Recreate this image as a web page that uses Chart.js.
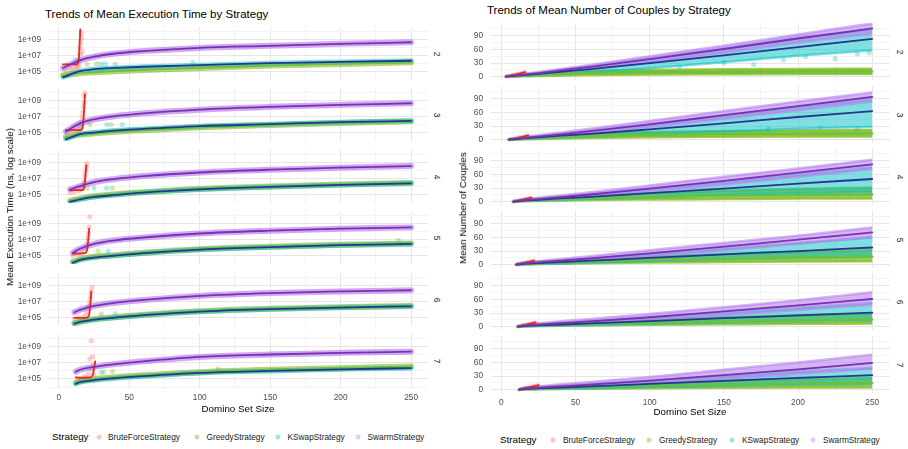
<!DOCTYPE html>
<html>
<head>
<meta charset="utf-8">
<script src="https://cdn.jsdelivr.net/npm/chart.js@4.4.1/dist/chart.umd.min.js"></script>
<style>
  body { margin: 0; background: #fff; font-family: "Liberation Sans", Arial, Helvetica, sans-serif; }
  #wrap { position: relative; width: 908px; height: 449px; overflow: hidden; background: #fff; }
  .txt { position: absolute; white-space: nowrap; color: #000; line-height: 1; }
  .key { position: absolute; width: 5px; height: 5px; border-radius: 50%; transform: translate(-50%, -50%); }
</style>
</head>
<body>
<div id="wrap"></div>
<script>
// ---- data ----
const facetLabels = ['2', '3', '4', '5', '6', '7'];
const strategies = ['BruteForceStrategy', 'GreedyStrategy', 'KSwapStrategy', 'SwarmStrategy'];
const xTicks = [0, 50, 100, 150, 200, 250];
const xGrid = [0, 25, 50, 75, 100, 125, 150, 175, 200, 225, 250];
const timeTicks = ['1e+05', '1e+07', '1e+09'];
const timeGrid = [1e4, 1e5, 1e6, 1e7, 1e8, 1e9, 1e10];
const coupleTicks = [0, 30, 60, 90];
const coupleGrid = [0, 15, 30, 45, 60, 75, 90, 105];

// smooth fits are read at [first size of the facet, ...fitX]
const facetStartX = [3, 5, 8, 10, 11, 12];
const fitX = [15, 25, 40, 60, 100, 150, 200, 250];

// mean execution time, log10(ns)
const timeSwarm = [
  [5.5, 6.45, 6.9, 7.3, 7.6, 8.0, 8.25, 8.5, 8.7],
  [5.2, 6.2, 6.7, 7.1, 7.45, 7.9, 8.25, 8.5, 8.7],
  [5.7, 6.1, 6.6, 7.0, 7.35, 7.8, 8.15, 8.4, 8.6],
  [5.4, 5.9, 6.5, 6.95, 7.3, 7.8, 8.15, 8.4, 8.55],
  [5.7, 6.0, 6.5, 6.9, 7.25, 7.75, 8.1, 8.3, 8.45],
  [5.9, 6.15, 6.5, 6.85, 7.2, 7.75, 8.05, 8.25, 8.4]
];
const timeKSwap = [
  [4.35, 5.1, 5.35, 5.5, 5.65, 5.85, 6.1, 6.25, 6.4],
  [4.2, 4.85, 5.05, 5.3, 5.5, 5.85, 6.1, 6.35, 6.5],
  [4.15, 4.45, 4.75, 5.0, 5.3, 5.7, 6.0, 6.25, 6.45],
  [4.15, 4.5, 4.8, 5.05, 5.35, 5.8, 6.1, 6.35, 6.5],
  [4.3, 4.5, 4.8, 5.05, 5.35, 5.8, 6.1, 6.3, 6.45],
  [4.4, 4.6, 4.85, 5.1, 5.35, 5.75, 6.0, 6.2, 6.35]
];
const timeGreedy = [
  [4.6, 4.85, 4.95, 5.1, 5.25, 5.5, 5.8, 6.0, 6.2],
  [4.5, 4.8, 4.95, 5.15, 5.35, 5.7, 6.0, 6.25, 6.45],
  [4.3, 4.55, 4.85, 5.1, 5.35, 5.75, 6.05, 6.3, 6.5],
  [4.3, 4.6, 4.9, 5.1, 5.4, 5.85, 6.15, 6.4, 6.55],
  [4.35, 4.55, 4.85, 5.1, 5.4, 5.85, 6.15, 6.35, 6.5],
  [4.5, 4.7, 4.95, 5.2, 5.45, 5.85, 6.15, 6.35, 6.55]
];
const timeBruteX = [
  [3, 8, 12.5, 14, 14.6, 15.2],
  [5, 10, 15.5, 17, 17.8, 18.5],
  [8, 12, 16.5, 18, 18.8, 19.5],
  [10, 14, 18.5, 20, 20.8, 21.5],
  [11, 15, 20, 21.5, 22.3, 23],
  [12, 17, 22.5, 24, 25, 25.8]
];
const timeBruteY = [
  [5.95, 5.95, 5.95, 6.4, 8.0, 10.3],
  [5.35, 5.35, 5.35, 5.8, 7.5, 9.8],
  [5.6, 5.6, 5.6, 6.0, 7.3, 8.7],
  [5.3, 5.3, 5.35, 5.7, 6.9, 8.4],
  [5.0, 5.0, 5.05, 5.4, 6.6, 8.3],
  [5.2, 5.15, 5.2, 5.5, 6.3, 7.2]
];
const timeBrutePtsX = [
  [5, 8, 10, 12, 13, 14, 14.5, 15, 15, 15.5, 16, 16, 16.5, 14],
  [6, 9, 12, 14, 15, 16, 16.5, 17, 17.5, 18, 18, 18.5],
  [8, 11, 14, 16, 17, 18, 18.5, 19, 19.5, 20],
  [10, 13, 16, 18, 19, 20, 20.5, 21, 21.5, 22],
  [11, 14, 17, 19, 20, 21, 22, 22.5, 23, 23.5],
  [13, 15, 18, 20, 21, 22, 23, 23, 24, 24.5, 25]
];
const timeBrutePtsY = [
  [5.2, 5.4, 5.3, 5.5, 5.8, 5.6, 6.5, 7.2, 8.0, 8.6, 9.2, 9.8, 7.5, 6.0],
  [5.1, 5.2, 5.3, 5.4, 5.8, 6.4, 7.0, 7.6, 8.3, 8.8, 9.6, 10.0],
  [5.3, 5.4, 5.5, 5.7, 6.2, 6.7, 7.4, 7.9, 8.4, 8.9],
  [5.1, 5.2, 5.3, 5.6, 6.0, 6.6, 7.2, 7.8, 8.6, 9.9],
  [4.9, 5.0, 5.1, 5.3, 5.8, 6.4, 7.0, 7.6, 8.2, 8.8],
  [5.0, 5.0, 5.3, 5.1, 5.6, 7.5, 6.3, 9.75, 7.8, 6.8, 5.5]
];
// stray points: [strategy (g = Greedy, k = KSwap), size, log10(ns)]
const timeStray = [
  [['k', 12, 6.5], ['g', 20, 5.95], ['g', 27, 6.0], ['k', 30, 6.0], ['k', 33, 6.0], ['g', 40, 5.95], ['k', 95, 6.15]],
  [['k', 15, 5.8], ['g', 22, 6.05], ['k', 34, 6.05], ['g', 37, 6.05], ['k', 45, 6.05]],
  [['g', 20, 5.85], ['k', 25, 5.9], ['k', 34, 5.85], ['g', 38, 5.85]],
  [['g', 28, 5.6], ['k', 35, 5.6], ['g', 241, 6.95]],
  [['g', 30, 5.5], ['k', 40, 5.5]],
  [['g', 32, 5.9], ['g', 38, 5.95], ['k', 30, 5.8], ['g', 113, 6.25]]
];

// mean number of couples
const cplSwarm = [
  [0.5, 4.5, 8, 14, 22, 39, 61, 84, 106],
  [0.5, 4, 7, 12, 19, 34, 54, 74, 94],
  [0.5, 3.5, 6, 10, 16, 29, 46, 64, 82],
  [0.5, 3, 5.5, 9, 14, 25, 40, 55, 71],
  [0.5, 2.5, 5, 8, 12, 21, 34, 47, 61],
  [0.5, 2.5, 4.5, 7.5, 11.5, 20, 32, 45, 59]
];
const cplSwarmHi = [
  [1.5, 6, 10.5, 17, 26, 45, 68, 93, 117],
  [1.5, 6, 10, 16, 24, 41, 63, 84, 104],
  [1.5, 5.5, 9, 14, 21, 36, 55, 73, 92],
  [1.5, 5, 8, 13, 19, 32, 48, 64, 82],
  [1.5, 4.5, 7.5, 12, 17, 28, 43, 58, 76],
  [1.5, 4.5, 7.5, 12, 17, 28, 44, 60, 77]
];
const cplSwarmLo = [
  [0, 3, 6, 11, 18, 33, 53, 75, 95],
  [0, 2.5, 5, 9, 15, 28, 46, 65, 84],
  [0, 2, 4, 7, 12, 23, 38, 55, 72],
  [0, 1.5, 3.5, 6, 10, 19, 32, 46, 61],
  [0, 1.5, 3, 5, 8, 15, 26, 37, 49],
  [0, 1.5, 3, 5, 8, 14, 24, 35, 46]
];
const cplKSwap = [
  [0.3, 3.5, 6.5, 11, 17, 30, 47, 65, 83],
  [0.3, 3, 5.5, 9, 13, 23, 36, 50, 63],
  [0.3, 2.5, 4.5, 7.5, 11, 19, 29, 40, 50],
  [0.3, 2, 3.5, 6, 9, 15, 23, 30, 38],
  [0.3, 1.5, 3, 5, 7.5, 12.5, 19, 25, 31],
  [0.3, 1.5, 3, 5, 7.5, 13, 19.5, 26, 32]
];
const cplKSwapHi = [
  [0.5, 5, 9, 15, 23, 40, 62, 86, 104],
  [0.5, 4.5, 8, 13, 20, 34, 53, 72, 90],
  [0.5, 4, 7, 11, 17, 29, 44, 60, 76],
  [0.5, 3.5, 6, 9.5, 14, 24, 36, 48, 60],
  [0.5, 3, 5, 8, 12, 20, 31, 42, 52],
  [0.5, 3, 5, 8, 12, 20, 31, 40, 48]
];
const cplKSwapLo = [
  [0, 2, 3.5, 6, 10, 19, 32, 46, 58],
  [0, 1.5, 3, 5, 7, 12, 18, 24, 28],
  [0, 1.5, 2.5, 4, 6, 10, 15, 19, 22],
  [0, 1, 2, 3, 5, 8, 12, 15, 17],
  [0, 1, 1.5, 2.5, 4, 6.5, 10, 12, 14],
  [0, 1, 1.5, 2.5, 3.5, 6, 9, 11, 13]
];
// sparse KSwap points below the dense cloud: [size, couples]
const cplKSwapStray = [
  [[120, 21], [150, 31], [170, 27], [190, 37], [205, 44], [225, 40], [240, 50], [248, 53]],
  [[180, 24], [215, 27], [240, 25]],
  [[200, 18], [235, 20]],
  [], [], []
];
const cplGreedy = [
  [0.5, 3, 5, 7, 8.5, 10, 11, 11.5, 11.5],
  [0.5, 3, 5, 7, 9, 11, 12.5, 13.5, 14],
  [0.5, 2.5, 4.5, 6.5, 8.5, 11, 13.5, 15, 16],
  [0.5, 2, 4, 6, 8, 11, 13.5, 16, 18],
  [0.5, 2, 3.5, 5.5, 7.5, 10, 12.5, 14.5, 16],
  [0.5, 2, 3.5, 5.5, 7.5, 10, 12, 13.5, 15]
];
const cplGreedyHi = [
  [1.5, 5, 8, 11, 13, 15, 16.5, 17, 17.5],
  [1.5, 5, 8, 11, 14, 17, 19, 20.5, 21.5],
  [1.5, 4.5, 7.5, 11, 14, 19, 24, 28, 31],
  [1.5, 4, 7, 10, 13, 18, 23, 28, 32],
  [1.5, 3.5, 6.5, 9, 12, 16, 21, 25, 28],
  [1.5, 3.5, 6, 9, 12, 16, 20, 23, 26]
];
const cplGreedyLo = [
  [0, 1, 2, 3, 4, 5, 5.5, 6, 6],
  [0, 1, 2, 3, 4, 5.5, 6.5, 7, 7],
  [0, 1, 2, 3, 4, 5, 6, 7, 7],
  [0, 0.5, 1.5, 2.5, 3.5, 5, 6, 7, 8],
  [0, 0.5, 1.5, 2.5, 3, 4.5, 5.5, 6.5, 7],
  [0, 0.5, 1, 2, 2.5, 3.5, 4.5, 5, 5]
];
const cplBruteX = [
  [3, 8, 12, 16],
  [5, 10, 14, 18],
  [8, 12, 16, 20],
  [10, 14, 18, 22],
  [11, 15, 19, 23],
  [12, 16, 20, 25]
];
const cplBruteY = [
  [0.5, 4, 7, 10],
  [0.5, 3.5, 6.5, 9.5],
  [0.5, 3, 6, 9],
  [0.5, 3, 6, 9],
  [0.5, 3.5, 6.5, 9.5],
  [0.5, 3.5, 6.5, 10]
];

// ---- drawing ----
const FONT = '"Liberation Sans", Arial, Helvetica, sans-serif';
const col = {
  bruteP: 'rgba(248,118,109,0.35)', greedyP: 'rgba(124,174,0,0.55)',
  kswapP: 'rgba(0,191,196,0.5)', swarmP: 'rgba(170,100,230,0.55)',
  greedyBand: 'rgba(130,185,20,0.72)', kswapBand: 'rgba(0,191,196,0.5)', swarmBand: 'rgba(185,130,238,0.6)',
  bruteL: '#E8281F', greedyL: '#66C144', kswapL: '#26368F', swarmL: '#7B2FB5'
};
const legendKeys = ['rgba(248,118,109,0.4)', 'rgba(124,174,0,0.4)', 'rgba(0,191,196,0.4)', 'rgba(199,124,255,0.4)'];
const wrap = document.getElementById('wrap');

function text(str, x, y, size, opt = {}) {
  const d = document.createElement('div');
  d.className = 'txt';
  d.textContent = str;
  d.style.fontSize = size + 'px';
  d.style.left = x + 'px';
  d.style.top = y + 'px';
  let tf = opt.left ? 'translate(0,-50%)' : 'translate(-50%,-50%)';
  if (opt.rotate) tf += ' rotate(' + opt.rotate + 'deg)';
  d.style.transform = tf;
  if (opt.color) d.style.color = opt.color;
  wrap.appendChild(d);
}

const toNs = v => Math.pow(10, v);
const same = v => v;
function fitData(f, ys, conv) {
  return [facetStartX[f], ...fitX].map((x, i) => ({ x, y: conv(ys[i]) }));
}
function xyData(xs, ys, conv) {
  return xs.map((x, i) => ({ x, y: conv(ys[i]) }));
}
function line(data, color, width) {
  return { data, showLine: true, borderColor: color, borderWidth: width, pointRadius: 0,
    fill: false, cubicInterpolationMode: 'monotone', borderCapStyle: 'round', borderJoinStyle: 'round' };
}
function points(data, color, r) {
  return { data, showLine: false, pointRadius: r, pointBorderWidth: 0, backgroundColor: color, borderColor: color };
}
function band(lo, hi, color) {
  return [
    { data: lo, showLine: true, borderColor: color, borderWidth: 2.5, pointRadius: 0, fill: false, cubicInterpolationMode: 'monotone' },
    { data: hi, showLine: true, borderColor: color, borderWidth: 2.5, pointRadius: 0, fill: '-1', backgroundColor: color, cubicInterpolationMode: 'monotone' }
  ];
}

const LEFT = { plotL: 49, plotR: 428, top0: 27, step: 61.4, h: 53, stripX: 437, log: true };
const RIGHT = { plotL: 491, plotR: 890, top0: 23, step: 62.6, h: 57, stripX: 900, log: false };

function gridColor(major) { return major ? '#E6E6E6' : '#F3F3F3'; }
function noPadding(s) { s.paddingTop = 0; s.paddingBottom = 0; s.paddingLeft = 0; s.paddingRight = 0; }

function facet(panel, f, datasets) {
  const bottom = f === facetLabels.length - 1;
  const padL = 46, padB = bottom ? 22 : 0;
  const top = Math.round(panel.top0 + f * panel.step);
  const w = Math.round(panel.plotR - panel.plotL) + padL;
  const h = Math.round(panel.h) + padB;
  const cv = document.createElement('canvas');
  cv.width = w; cv.height = h;
  cv.style.cssText = 'position:absolute;left:' + (Math.round(panel.plotL) - padL) + 'px;top:' + top + 'px;width:' + w + 'px;height:' + h + 'px';
  wrap.appendChild(cv);
  datasets.forEach((d, i) => { d.order = datasets.length - i; });

  const tickFont = { family: FONT, size: 8.3 };
  let yScale;
  if (panel.log) {
    const major = timeTicks.map(Number);
    yScale = {
      type: 'logarithmic', min: 1e4, max: Math.pow(10, 10.6),
      afterBuildTicks: s => { s.ticks = timeGrid.map(v => ({ value: v })); },
      ticks: { autoSkip: false, padding: 8, color: '#4D4D4D', font: tickFont,
        callback: v => { const i = major.findIndex(m => Math.abs(m - v) < 1e-6 * v); return i >= 0 ? timeTicks[i] : ''; } },
      grid: { drawTicks: false, color: c => gridColor(c.tick && major.some(m => Math.abs(m - c.tick.value) < 1e-6 * m)) }
    };
  } else {
    yScale = {
      type: 'linear', min: -7, max: 118,
      afterBuildTicks: s => { s.ticks = coupleGrid.map(v => ({ value: v })); },
      ticks: { autoSkip: false, padding: 8, color: '#4D4D4D', font: tickFont,
        callback: v => coupleTicks.includes(v) ? String(v) : '' },
      grid: { drawTicks: false, color: c => gridColor(c.tick && coupleTicks.includes(c.tick.value)) }
    };
  }
  yScale.border = { display: false };
  yScale.afterFit = s => { s.width = padL; noPadding(s); };

  new Chart(cv, {
    type: 'scatter',
    data: { datasets },
    options: {
      responsive: false, animation: false, devicePixelRatio: 1, events: [],
      layout: { padding: 0, autoPadding: false },
      plugins: { legend: { display: false }, tooltip: { enabled: false } },
      scales: {
        x: {
          type: 'linear', min: -7, max: 262,
          afterBuildTicks: s => { s.ticks = xGrid.map(v => ({ value: v })); },
          afterFit: s => { s.height = padB; noPadding(s); },
          border: { display: false },
          grid: { drawTicks: false, color: c => gridColor(c.tick && xTicks.includes(c.tick.value)) },
          ticks: { display: bottom, autoSkip: false, maxRotation: 0, padding: panel.log ? 6 : 5,
            color: '#4D4D4D', font: tickFont, callback: v => xTicks.includes(v) ? String(v) : '' }
        },
        y: yScale
      }
    }
  });
  text(facetLabels[f], panel.stripX, top + panel.h / 2, 8.3, { rotate: 90, color: '#1A1A1A' });
}

facetLabels.forEach((lab, f) => {
  const strayG = timeStray[f].filter(p => p[0] === 'g');
  const strayK = timeStray[f].filter(p => p[0] === 'k');
  facet(LEFT, f, [
    points(xyData(timeBrutePtsX[f], timeBrutePtsY[f], toNs), col.bruteP, 2.6),
    line(fitData(f, timeGreedy[f], toNs), col.greedyP, 6),
    points(strayG.map(p => ({ x: p[1], y: toNs(p[2]) })), 'rgba(124,174,0,0.3)', 2.6),
    line(fitData(f, timeKSwap[f], toNs), col.kswapP, 5),
    points(strayK.map(p => ({ x: p[1], y: toNs(p[2]) })), 'rgba(0,191,196,0.3)', 2.6),
    line(fitData(f, timeSwarm[f], toNs), col.swarmP, 6),
    line(xyData(timeBruteX[f], timeBruteY[f], toNs), col.bruteL, 1.8),
    line(fitData(f, timeGreedy[f], toNs), col.greedyL, 1.8),
    line(fitData(f, timeKSwap[f], toNs), col.kswapL, 1.8),
    line(fitData(f, timeSwarm[f], toNs), col.swarmL, 1.8)
  ]);

  facet(RIGHT, f, [
    line(xyData(cplBruteX[f], cplBruteY[f], same), 'rgba(248,118,109,0.5)', 4),
    ...band(fitData(f, cplGreedyLo[f], same), fitData(f, cplGreedyHi[f], same), col.greedyBand),
    points(cplKSwapStray[f].map(p => ({ x: p[0], y: p[1] })), 'rgba(0,191,196,0.3)', 2.6),
    ...band(fitData(f, cplKSwapLo[f], same), fitData(f, cplKSwapHi[f], same), col.kswapBand),
    ...band(fitData(f, cplSwarmLo[f], same), fitData(f, cplSwarmHi[f], same), col.swarmBand),
    line(xyData(cplBruteX[f], cplBruteY[f], same), col.bruteL, 1.8),
    line(fitData(f, cplGreedy[f], same), col.greedyL, 2.4),
    line(fitData(f, cplKSwap[f], same), col.kswapL, 1.8),
    line(fitData(f, cplSwarm[f], same), col.swarmL, 1.8)
  ]);
});

// titles and axis titles
text('Trends of Mean Execution Time by Strategy', 45, 15, 11.5, { left: true });
text('Trends of Mean Number of Couples by Strategy', 487, 11, 11.5, { left: true });
text('Mean Execution Time (ns, log scale)', 10, 207, 9.8, { rotate: -90 });
text('Mean Number of Couples', 463, 208, 9.8, { rotate: -90 });
text('Domino Set Size', 238, 409, 9.8);
text('Domino Set Size', 690, 412, 9.8);

// legends
function legend(x, y, keyX, textX) {
  text('Strategy', x, y, 9.8, { left: true });
  strategies.forEach((s, i) => {
    const k = document.createElement('div');
    k.className = 'key';
    k.style.left = keyX[i] + 'px';
    k.style.top = y + 'px';
    k.style.background = legendKeys[i];
    wrap.appendChild(k);
    text(s, textX[i], y, 8.3, { left: true, color: '#1A1A1A' });
  });
}
legend(52, 437, [98.5, 196.5, 277.5, 357.5], [108, 206.5, 287.5, 367.5]);
legend(500, 440, [553, 649, 732, 813], [563, 659, 742, 823]);
</script>
</body>
</html>
